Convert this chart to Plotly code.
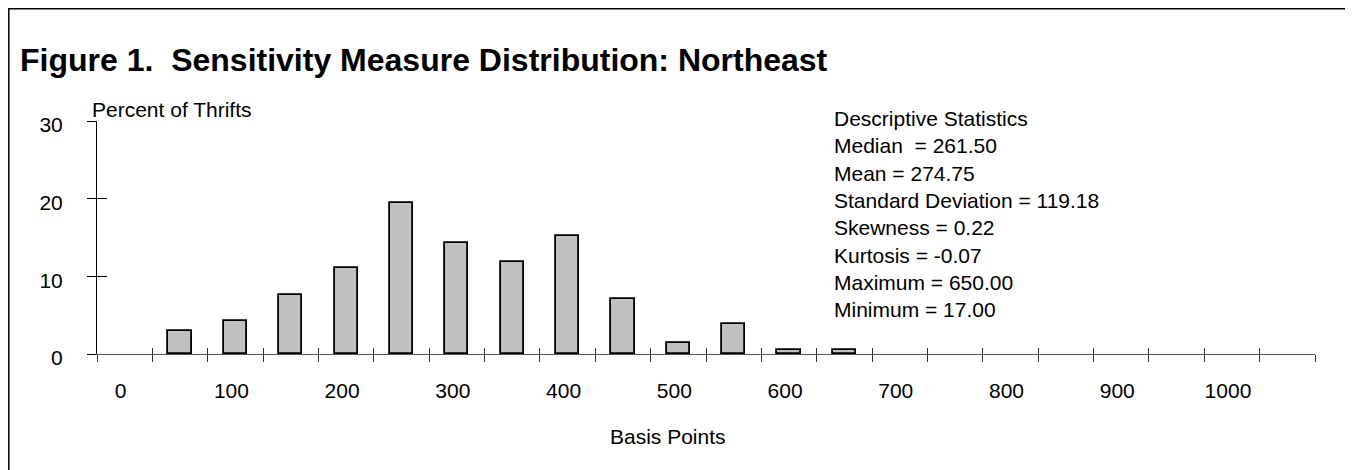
import plotly.graph_objects as go

# ---- data ----
bin_centers = [50, 100, 150, 200, 250, 300, 350, 400, 450, 500, 550, 600, 650]
percent_of_thrifts = [2.9, 4.3, 7.6, 11.1, 19.4, 14.3, 11.9, 15.2, 7.1, 1.4, 3.8, 0.5, 0.5]
x_tick_labels = [0, 100, 200, 300, 400, 500, 600, 700, 800, 900, 1000]
y_tick_labels = [0, 10, 20, 30]
stats_lines = [
    "Descriptive Statistics",
    "Median  = 261.50",
    "Mean = 274.75",
    "Standard Deviation = 119.18",
    "Skewness = 0.22",
    "Kurtosis = -0.07",
    "Maximum = 650.00",
    "Minimum = 17.00",
]

bin_width = 50
x_min, x_max = -25, 1075
y_min, y_max = 0, 30
tick_edges = list(range(x_min, x_max + 1, bin_width))

FONT = "Arial, 'Liberation Sans', sans-serif"
W, H = 1345, 462          # page has an 8px body margin
PW, PH = 1218, 233        # plot-area size in px
L, T = 89, 113            # plot-area left/top in figure px


def px(xp):   # reference page x -> paper x
    return (xp - 97) / PW


def py(yp):   # reference page y -> paper y
    return (354 - yp) / PH


fig = go.Figure()
fig.add_bar(
    x=bin_centers,
    y=percent_of_thrifts,
    width=21,
    marker=dict(color="#c0c0c0", line=dict(color="black", width=1.8)),
    showlegend=False,
    hoverinfo="x+y",
)
# invisible trace so the overlay axes (inside tick halves) get drawn
fig.add_scatter(
    x=[x_min], y=[y_min], xaxis="x2", yaxis="y2", mode="markers",
    marker=dict(opacity=0), hoverinfo="skip", showlegend=False,
)

fig.update_layout(
    width=W,
    height=H,
    margin=dict(l=L, r=W - L - PW, t=T, b=H - T - PH),
    paper_bgcolor="white",
    plot_bgcolor="white",
    font=dict(family=FONT, size=21, color="black"),
    title=dict(
        text="<b>Figure 1.  Sensitivity Measure Distribution: Northeast</b>",
        font=dict(family=FONT, size=32, color="black"),
        x=(20 - 8) / W, xanchor="left", xref="container",
        y=1 - (60 - 8) / H, yanchor="middle", yref="container",
    ),
    xaxis=dict(
        range=[x_min, x_max],
        tickvals=x_tick_labels,
        ticks="",
        showline=True, linecolor="#555555", linewidth=1.2,
        showgrid=False, zeroline=False,
        tickfont=dict(size=21),
        ticklabelstandoff=18,
        ticklabelshift=-4,
        minor=dict(tickvals=tick_edges, ticks="outside", ticklen=7,
                   tickcolor="#333333", tickwidth=1.2, showgrid=False),
    ),
    yaxis=dict(
        range=[y_min, y_max],
        tickvals=y_tick_labels,
        ticks="outside", ticklen=9, tickcolor="black", tickwidth=1,
        showline=True, linecolor="black", linewidth=1,
        showgrid=False, zeroline=False,
        tickfont=dict(size=21),
        ticklabelstandoff=20,
        ticklabelshift=4,
    ),
    xaxis2=dict(
        overlaying="x", anchor="y2", range=[x_min, x_max],
        tickvals=tick_edges, ticks="inside", ticklen=6,
        tickcolor="#333333", tickwidth=1.2,
        showticklabels=False, showline=False, showgrid=False, zeroline=False,
    ),
    yaxis2=dict(
        overlaying="y", anchor="x2", range=[y_min, y_max],
        tickvals=y_tick_labels, ticks="inside", ticklen=10,
        tickcolor="black", tickwidth=1,
        showticklabels=False, showline=False, showgrid=False, zeroline=False,
    ),
    bargap=0,
)

fig.add_annotation(
    text="Percent of Thrifts", xref="paper", yref="paper",
    x=px(90), y=py(109), xanchor="left", yanchor="middle",
    showarrow=False, font=dict(size=21),
)
fig.add_annotation(
    text="<br>".join(stats_lines), xref="paper", yref="paper",
    x=px(832), y=py(213.7), xanchor="left", yanchor="middle",
    align="left", showarrow=False, font=dict(size=21),
)
fig.add_annotation(
    text="Basis Points", xref="paper", yref="paper",
    x=px(668), y=py(436), xanchor="center", yanchor="middle",
    showarrow=False, font=dict(size=21),
)
# outer frame
fig.add_shape(
    type="rect", xref="paper", yref="paper",
    x0=px(8.8), x1=px(1350.5),
    y0=py(490), y1=py(8.8),
    line=dict(color="black", width=1.5), fillcolor="rgba(0,0,0,0)",
)

fig.write_html("out.html")
